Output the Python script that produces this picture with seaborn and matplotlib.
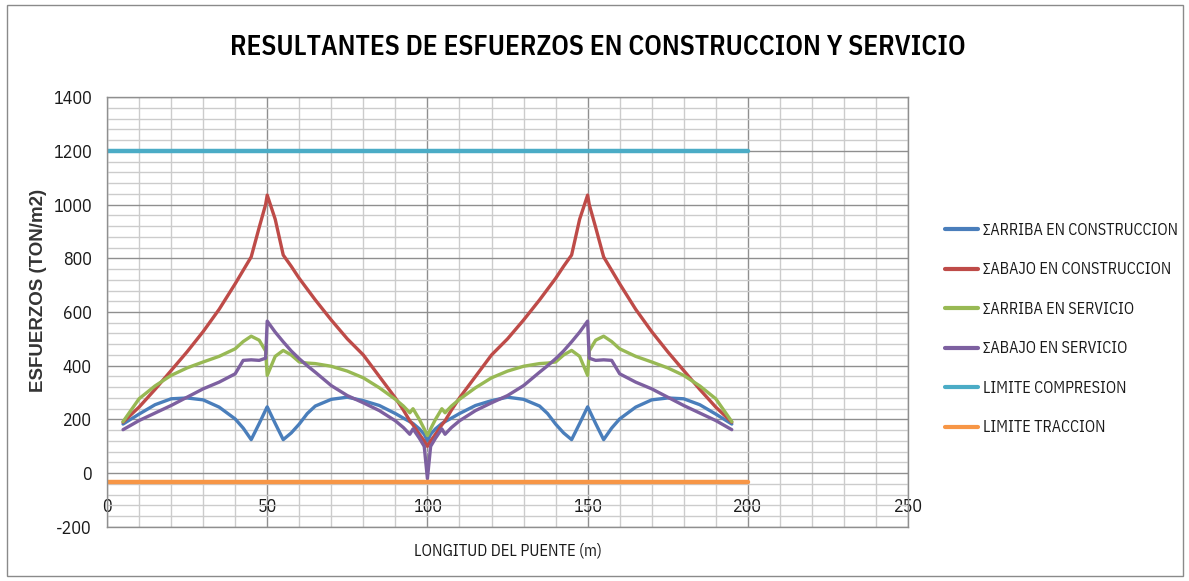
# %% Import packages

import pandas as pd
import seaborn as sns
import matplotlib
matplotlib.use('Agg')
import matplotlib.pyplot as plt
from matplotlib.ticker import MultipleLocator
from matplotlib.patches import Rectangle
from matplotlib.lines import Line2D

# %% Data (x in m, stresses in TON/m2)

x_m = [5, 10, 15, 20, 25, 30, 35, 40, 42.5, 45, 47.5, 49.5, 50, 52.5, 55, 57.5,
       60, 62.5, 65, 70, 75, 80, 85, 90, 92.5, 94.5, 95.5, 97.5, 99, 100,
       101, 102.5, 104.5, 105.5, 107.5, 110, 115, 120, 125, 130, 135, 137.5,
       140, 142.5, 145, 147.5, 150, 150.5, 152.5, 155, 157.5, 160, 165, 170,
       175, 180, 185, 190, 195]

arriba_construccion = [183, 220, 255, 277, 280, 273, 246, 202, 168, 125, 185, 235, 247, 185, 125, 150,
                       183, 222, 250, 275, 283, 270, 252, 222, 205, 192, 185, 165, 145, 120,
                       145, 165, 185, 192, 205, 222, 252, 270, 283, 275, 250, 222,
                       183, 150, 125, 185, 247, 235, 185, 125, 168, 202, 246, 273,
                       280, 277, 255, 220, 183]

abajo_construccion = [190, 246, 312, 382, 452, 527, 610, 705, 755, 805, 915, 1000, 1035, 945, 812, 770,
                      725, 685, 645, 570, 500, 440, 360, 280, 235, 195, 180, 145, 120, 100,
                      120, 145, 180, 195, 235, 280, 360, 440, 500, 570, 645, 685,
                      725, 770, 812, 945, 1035, 1000, 915, 805, 755, 705, 610, 527,
                      452, 382, 312, 246, 190]

arriba_servicio = [192, 277, 325, 364, 392, 414, 435, 463, 490, 510, 495, 455, 364, 435, 457, 440,
                   414, 410, 408, 398, 380, 355, 318, 275, 250, 225, 240, 200, 165, 140,
                   165, 200, 240, 225, 250, 275, 318, 355, 380, 398, 408, 410,
                   414, 440, 457, 435, 364, 455, 495, 510, 490, 463, 435, 414,
                   392, 364, 325, 277, 192]

abajo_servicio = [162, 196, 224, 252, 283, 314, 339, 370, 420, 422, 420, 428, 566, 525, 489, 455,
                  426, 400, 376, 326, 289, 262, 233, 195, 170, 145, 165, 130, 100, -20,
                  100, 130, 165, 145, 170, 195, 233, 262, 289, 326, 376, 400,
                  426, 455, 489, 525, 566, 428, 420, 422, 420, 370, 339, 314,
                  283, 252, 224, 196, 162]

lim_x = [0, 200]
limite_compresion = [1200, 1200]
limite_traccion = [-34, -34]

series = ['\u03a3ARRIBA EN CONSTRUCCION', '\u03a3ABAJO EN CONSTRUCCION',
          '\u03a3ARRIBA EN SERVICIO', '\u03a3ABAJO EN SERVICIO']
limites = ['LIMITE COMPRESION', 'LIMITE TRACCION']
colores = ['#4A7EBB', '#BE4B48', '#98B954', '#7D60A0']
colores_lim = ['#4BACC6', '#F79646']

# %% Set figure aesthetics

sns.set_style('white')
# narrow face first, the others only as fallback
plt.rcParams['font.family'] = ['IBM Plex Sans Condensed', 'Carlito', 'Lato', 'DejaVu Sans']
plt.rcParams['axes.unicode_minus'] = False
GRID_MAJOR = '#8f8f8f'
GRID_MINOR = '#cccccc'
TXT = '#1a1a1a'

# %% Build long table

curvas = pd.DataFrame({'x': x_m * 4,
                       'valor': arriba_construccion + abajo_construccion + arriba_servicio + abajo_servicio,
                       'serie': sum([[s] * len(x_m) for s in series], [])})
lims = pd.DataFrame({'x': lim_x * 2,
                     'valor': limite_compresion + limite_traccion,
                     'serie': sum([[s] * len(lim_x) for s in limites], [])})

# %% Plot

fig = plt.figure(figsize=(11.89, 5.81), dpi=100)
ax = fig.add_axes([0.090, 0.093, 0.6737, 0.740])

sns.lineplot(data=curvas, x='x', y='valor', hue='serie', hue_order=series,
             palette=colores, estimator=None, sort=False, linewidth=2.4, legend=False, ax=ax)
sns.lineplot(data=lims, x='x', y='valor', hue='serie', hue_order=limites,
             palette=colores_lim, estimator=None, sort=False, linewidth=3.2, legend=False, ax=ax)

ax.set_xlim(0, 250)
ax.set_ylim(-200, 1400)
ax.xaxis.set_major_locator(MultipleLocator(50))
ax.xaxis.set_minor_locator(MultipleLocator(10))
ax.yaxis.set_major_locator(MultipleLocator(200))
ax.yaxis.set_minor_locator(MultipleLocator(40))
ax.set_axisbelow(True)
ax.grid(which='minor', color=GRID_MINOR, lw=1.0)
ax.grid(which='major', color=GRID_MAJOR, lw=1.0)
for sp in ax.spines.values():
    sp.set_color(GRID_MAJOR)
    sp.set_linewidth(1.0)

ax.tick_params(axis='y', which='major', length=5, color=GRID_MAJOR, labelsize=13, pad=6, labelcolor=TXT)
ax.tick_params(axis='x', which='major', length=0, labelsize=13, pad=-21, labelcolor=TXT)
ax.tick_params(which='minor', length=0)

ax.set_xlabel('LONGITUD DEL PUENTE (m)', fontsize=11.8, color=TXT)
ax.xaxis.set_label_coords(0.5, -0.035)
ax.set_ylabel('ESFUERZOS (TON/m2)', fontsize=13.5, fontweight='bold',
              family=['Liberation Sans', 'DejaVu Sans'], color='#333333')
ax.yaxis.set_label_coords(-0.075, 0.55)

fig.suptitle('RESULTANTES DE ESFUERZOS EN CONSTRUCCION Y SERVICIO', fontsize=19.8,
             fontweight='semibold', color='black', x=0.503, y=0.942)

handles = [Line2D([], [], color=c, lw=3) for c in colores + colores_lim]
fig.legend(handles, series + limites, loc='upper left', bbox_to_anchor=(0.788, 0.632),
           frameon=False, fontsize=11.5, handlelength=2.1, handletextpad=0.3, labelspacing=1.47,
           borderpad=0, labelcolor=TXT)

fig.add_artist(Rectangle((0.006, 0.009), 0.989, 0.982, transform=fig.transFigure,
                         fill=False, edgecolor='#8a8a8a', lw=1.0))

plt.savefig('out.png', dpi=100)
